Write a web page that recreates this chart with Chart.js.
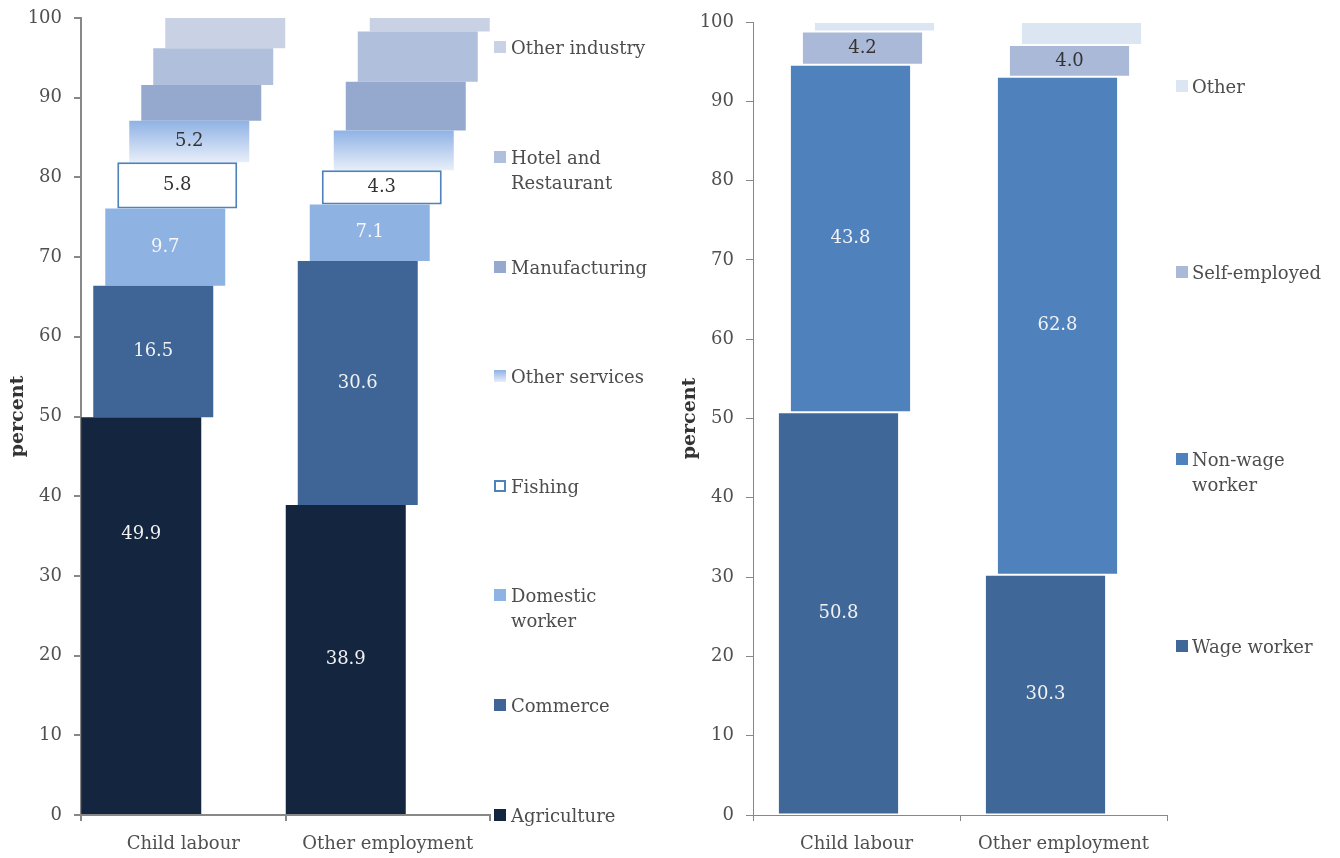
<!DOCTYPE html>
<html>
<head>
<meta charset="utf-8">
<title>Employment by sector and status</title>
<script src="https://cdn.jsdelivr.net/npm/chart.js@4.4.1/dist/chart.umd.min.js"></script>
<style>
  html, body { margin: 0; padding: 0; background: #fff; }
  body { width: 1340px; height: 858px; position: relative; overflow: hidden; font-family: "DejaVu Serif", serif; }
  .panel { position: absolute; top: 0; height: 858px; }
  #sector-panel { left: 0; width: 500px; }
  #status-panel { left: 670px; width: 510px; }
  .legend-item { position: absolute; display: flex; align-items: flex-start; font-size: 18px; line-height: 25px; color: #4d4d4d; white-space: pre-line; }
  .legend-box { width: 12px; height: 12px; margin-top: 6px; box-sizing: border-box; flex: none; }
</style>
</head>
<body>
<div class="panel" id="sector-panel"><canvas id="sectorChart" width="500" height="858"></canvas></div>
<div class="panel" id="status-panel"><canvas id="statusChart" width="510" height="858"></canvas></div>
<div id="legends"></div>

<script>
const categories = ["Child labour", "Other employment"];

// sector of employment (percent of each group)
const sectors = ["Agriculture", "Commerce", "Domestic\nworker", "Fishing", "Other services", "Manufacturing", "Hotel and\nRestaurant", "Other industry"];
const sectorChildLabour = [49.9, 16.5, 9.7, 5.8, 5.2, 4.5, 4.6, 3.8];
const sectorOtherEmployment = [38.9, 30.6, 7.1, 4.3, 5.0, 6.1, 6.3, 1.7];
const sectorShowValue = [[true, true], [true, true], [true, true], [true, true], [true, false], [false, false], [false, false], [false, false]];

// status in employment (percent of each group)
const statuses = ["Wage worker", "Non-wage\nworker", "Self-employed", "Other"];
const statusChildLabour = [50.8, 43.8, 4.2, 1.2];
const statusOtherEmployment = [30.3, 62.8, 4.0, 2.9];
const statusShowValue = [[true, true], [true, true], [true, true], [false, false]];

const yTicks = [0, 10, 20, 30, 40, 50, 60, 70, 80, 90, 100];

Chart.defaults.font.family = '"DejaVu Serif", serif';
Chart.defaults.font.size = 18;

const AXIS = "#888888";
const TEXT = "#505050";

// other services fades from blue at the top to near white at the bottom
function fadeFill(context) {
  const chart = context.chart;
  const y = chart.scales.y;
  if (!context.raw || !y || !chart.chartArea) return "#b9cdef";
  const top = y.getPixelForValue(context.raw[1]);
  const bottom = y.getPixelForValue(context.raw[0]);
  const g = chart.ctx.createLinearGradient(0, top, 0, bottom);
  g.addColorStop(0, "#8fb2e5");
  g.addColorStop(1, "#e8eef9");
  return g;
}

const sectorStyles = [
  { fill: "#13253f", text: "#f2f2f2" },
  { fill: "#3e6596", text: "#f2f2f2" },
  { fill: "#8eb3e3", text: "#f7f7f7" },
  { fill: "#ffffff", border: "#4f81bd", borderWidth: 2, text: "#333333" },
  { fill: fadeFill, legend: "linear-gradient(#8fb2e5, #e8eef9)", text: "#333333" },
  { fill: "#95a9cf", text: "#333333" },
  { fill: "#b0bfdb", text: "#333333" },
  { fill: "#c9d2e5", text: "#333333" }
];

const statusStyles = [
  { fill: "#3f6899", text: "#f2f2f2" },
  { fill: "#4f81bd", text: "#f2f2f2" },
  { fill: "#abb9d8", text: "#333333" },
  { fill: "#dce6f2", text: "#333333" }
];

// turn shares into floating [from, to] segments stacked per category
function floatingRanges(names, perCategory) {
  const tops = perCategory.map(() => 0);
  return names.map((_, i) => perCategory.map((vals, c) => {
    const from = tops[c];
    tops[c] = Math.round((tops[c] + vals[i]) * 10) / 10;
    return [from, tops[c]];
  }));
}

function buildDatasets(names, perCategory, showValue, styles, overlap) {
  const ranges = floatingRanges(names, perCategory);
  return names.map((name, i) => ({
    label: name.replace("\n", " "),
    data: ranges[i],
    values: perCategory.map(vals => vals[i]),
    showValue: showValue[i],
    valueColor: styles[i].text,
    backgroundColor: styles[i].fill,
    borderColor: styles[i].border || overlap.edge,
    borderWidth: styles[i].borderWidth || overlap.edgeWidth,
    borderSkipped: false,
    categoryPercentage: overlap.categoryPercentage,
    barPercentage: overlap.barPercentage
  }));
}

const segmentValues = {
  id: "segmentValues",
  afterDatasetsDraw(chart, args, opts) {
    const ctx = chart.ctx;
    const yScale = chart.scales.y;
    const anchors = opts.anchors || {};
    ctx.save();
    ctx.font = '18px "DejaVu Serif", serif';
    ctx.textAlign = "center";
    ctx.textBaseline = "middle";
    chart.data.datasets.forEach((ds, i) => {
      chart.getDatasetMeta(i).data.forEach((bar, j) => {
        if (!ds.showValue[j]) return;
        const p = bar.getProps(["x", "y", "base"], true);
        const key = i + ":" + j;
        const py = key in anchors ? yScale.getPixelForValue(anchors[key]) : (p.y + p.base) / 2;
        ctx.fillStyle = ds.valueColor;
        ctx.fillText(ds.values[j].toFixed(1), p.x, py);
      });
    });
    ctx.restore();
  }
};

function makeChart(canvasId, datasets, cfg) {
  return new Chart(document.getElementById(canvasId), {
    type: "bar",
    data: { labels: categories, datasets: datasets },
    options: {
      responsive: false,
      animation: false,
      layout: { padding: cfg.padding },
      plugins: {
        legend: { display: false },
        tooltip: { enabled: false },
        segmentValues: { anchors: cfg.anchors || {} }
      },
      scales: {
        x: {
          grid: { drawOnChartArea: false, tickLength: 6, color: AXIS, lineWidth: cfg.axisWidth },
          border: { color: AXIS, width: cfg.axisWidth },
          ticks: { color: TEXT, padding: 13, maxRotation: 0 },
          afterFit: scale => { scale.height = 43; }
        },
        y: {
          min: 0,
          max: 100,
          afterBuildTicks: scale => { scale.ticks = yTicks.map(v => ({ value: v })); },
          grid: { drawOnChartArea: false, tickLength: 7, color: AXIS, lineWidth: cfg.axisWidth },
          border: { color: AXIS, width: cfg.axisWidth },
          ticks: { color: TEXT, padding: 12 },
          title: {
            display: true,
            text: "percent",
            color: "#333333",
            font: { size: 19, weight: "bold" },
            padding: { top: cfg.titleOffset, bottom: 0 }
          },
          afterFit: scale => {
            scale.width = cfg.axisLeft;
            // top/bottom room is set by the layout padding alone
            scale.paddingTop = 0;
            scale.paddingBottom = 0;
          }
        }
      }
    },
    plugins: [segmentValues]
  });
}

makeChart("sectorChart",
  buildDatasets(sectors, [sectorChildLabour, sectorOtherEmployment], sectorShowValue, sectorStyles,
    { categoryPercentage: 96 / 204.5, barPercentage: 10, edge: "rgba(0,0,0,0)", edgeWidth: 0 }),
  { padding: { top: 18, right: 10, left: 0, bottom: 0 }, axisLeft: 81, axisWidth: 2, titleOffset: 7, anchors: { "0:0": 35.2 } });

makeChart("statusChart",
  buildDatasets(statuses, [statusChildLabour, statusOtherEmployment], statusShowValue, statusStyles,
    { categoryPercentage: 48 / 207, barPercentage: 10.1, edge: "rgba(255,255,255,0.35)", edgeWidth: 1 }),
  { padding: { top: 22, right: 13, left: 0, bottom: 0 }, axisLeft: 83, axisWidth: 1, titleOffset: 9 });

// legends, listed top-down in reverse stacking order
function buildLegend(names, styles, boxLeft, gap, centers) {
  const host = document.getElementById("legends");
  names.forEach((name, i) => {
    const item = document.createElement("div");
    item.className = "legend-item";
    item.style.left = boxLeft + "px";
    item.style.top = (centers[i] - 12.5) + "px";
    const box = document.createElement("span");
    box.className = "legend-box";
    box.style.marginRight = gap + "px";
    const st = styles[i];
    box.style.background = st.legend || st.fill;
    if (st.border) box.style.border = "2px solid " + st.border;
    const label = document.createElement("span");
    label.textContent = name;
    item.appendChild(box);
    item.appendChild(label);
    host.appendChild(item);
  });
}

buildLegend(sectors, sectorStyles, 494, 5, [815, 705, 595, 486, 376, 267, 157, 47]);
buildLegend(statuses, statusStyles, 1176, 4, [646, 459, 272, 86]);
</script>
</body>
</html>
